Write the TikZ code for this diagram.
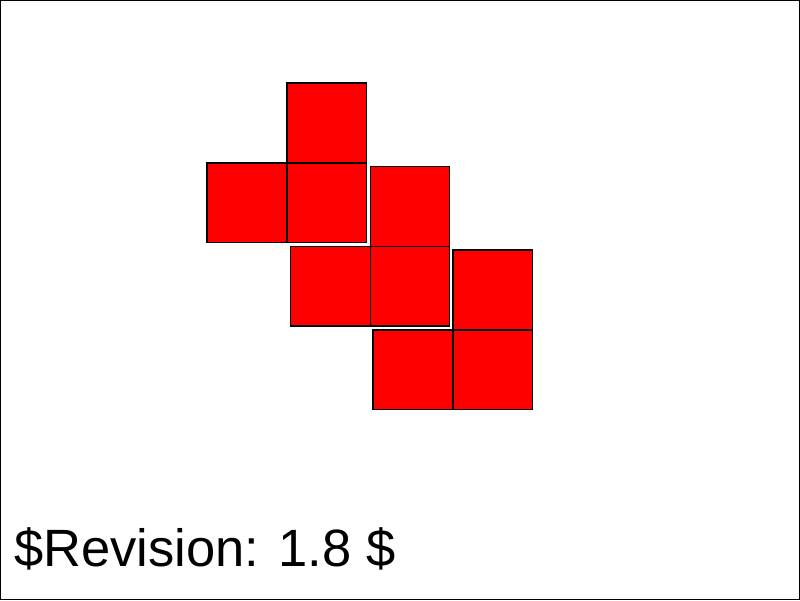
\documentclass[tikz,border=0pt]{standalone}
\usepackage{fontspec}
\setmainfont{Liberation Sans}
\begin{document}
\begin{tikzpicture}[x=1pt,y=-1pt,
    cell/.style={fill=red, draw=black, line width=1.2pt}]
    \draw[line width=1pt] (0.5,0.5) rectangle (799.5,599.5);

    % three pieces, each one square on top of two
    \foreach \gx/\gy in {207/163, 290.3/246.5, 373/330} {
        \draw[cell] (\gx+80,\gy-80) rectangle ++(79.5,80);
        \draw[cell] (\gx,\gy) rectangle ++(80,79.5);
        \draw[cell] (\gx+80,\gy) rectangle ++(79.5,79.5);
    }

    \node[anchor=base west, inner sep=0pt, font=\fontsize{52.5}{54}\selectfont] (rev) at (14,566) {\$Revision: 1.8 \$};
\end{tikzpicture}
\end{document}
